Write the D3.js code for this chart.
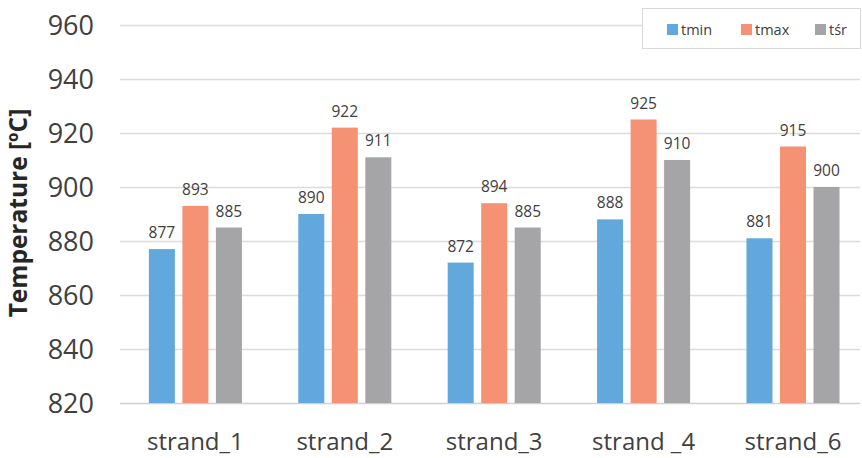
<!DOCTYPE html>
<html>
<head>
<meta charset="utf-8">
<script src="https://cdn.jsdelivr.net/npm/d3@7"></script>
<style>
  html, body { margin: 0; padding: 0; background: #fff; }
  svg { display: block; font-family: "Open Sans", sans-serif; }
</style>
</head>
<body>
<svg id="chart" width="862" height="458"></svg>
<script>
// Strand temperatures (°C)
const categories = ["strand_1", "strand_2", "strand_3", "strand _4", "strand_6"];
const seriesNames = ["tmin", "tmax", "tśr"];
const tminValues = [877, 890, 872, 888, 881];
const tmaxValues = [893, 922, 894, 925, 915];
const tsrValues  = [885, 911, 885, 910, 900];
const yTicks = [820, 840, 860, 880, 900, 920, 940, 960];
const seriesColors = ["#62A8DC", "#F59273", "#A5A5A8"];

const seriesValues = [tminValues, tmaxValues, tsrValues];
const rows = categories.map((c, i) => ({
  category: c,
  values: seriesNames.map((s, j) => ({ series: s, value: seriesValues[j][i], color: seriesColors[j] }))
}));

const svg = d3.select("#chart");
const plot = { left: 120, right: 860, top: 25, bottom: 403 };

const x0 = d3.scaleBand()
  .domain(categories)
  .range([120.7, 867.7])
  .paddingInner(0.327)
  .paddingOuter(0.1635);

const x1 = d3.scaleBand()
  .domain(seriesNames)
  .range([0, x0.bandwidth()])
  .paddingInner(0.224)
  .paddingOuter(0.112);

const y = d3.scaleLinear()
  .domain([820, 960])
  .range([plot.bottom, plot.top]);

// Horizontal gridlines
svg.append("g")
  .selectAll("line")
  .data(yTicks)
  .join("line")
  .attr("x1", plot.left)
  .attr("x2", plot.right)
  .attr("y1", d => Math.round(y(d)) + 0.5)
  .attr("y2", d => Math.round(y(d)) + 0.5)
  .attr("stroke", d => d === 820 ? "#d0d0d0" : "#dcdcdc")
  .attr("stroke-width", 1.3);

// Y axis tick labels
const yAxis = svg.append("g")
  .attr("transform", "translate(94,0)")
  .call(d3.axisLeft(y).tickValues(yTicks).tickSize(0).tickPadding(0).tickFormat(d3.format("d")));
yAxis.select(".domain").remove();
yAxis.selectAll("text")
  .attr("font-family", "'Open Sans', sans-serif")
  .attr("font-size", 27)
  .attr("fill", "#404040")
  .attr("dy", "0.35em");

// Y axis title
svg.append("text")
  .attr("transform", "translate(27,213) rotate(-90)")
  .attr("text-anchor", "middle")
  .attr("font-size", 24.5)
  .attr("font-weight", "bold")
  .attr("fill", "#262626")
  .text("Temperature [ºC]");

// Bars
const groups = svg.append("g")
  .selectAll("g")
  .data(rows)
  .join("g")
  .attr("transform", d => `translate(${x0(d.category)},0)`);

groups.selectAll("rect")
  .data(d => d.values)
  .join("rect")
  .attr("x", d => x1(d.series))
  .attr("width", x1.bandwidth())
  .attr("y", d => y(d.value))
  .attr("height", d => y(820) - y(d.value))
  .attr("fill", d => d.color);

// Value labels
groups.selectAll("text")
  .data(d => d.values)
  .join("text")
  .attr("x", d => x1(d.series) + x1.bandwidth() / 2)
  .attr("y", d => y(d.value) - 11)
  .attr("text-anchor", "middle")
  .attr("font-size", 15.5)
  .attr("fill", "#404040")
  .text(d => d.value);

// Category labels
const xAxis = svg.append("g")
  .attr("transform", `translate(0,${plot.bottom})`)
  .call(d3.axisBottom(x0).tickSize(0).tickPadding(0));
xAxis.select(".domain").remove();
xAxis.selectAll("text")
  .attr("font-family", "'Open Sans', sans-serif")
  .attr("font-size", 24)
  .attr("fill", "#404040")
  .attr("dy", "0")
  .attr("y", 47);

// Legend
const legend = svg.append("g");
legend.append("rect")
  .attr("x", 642.5).attr("y", 8.5)
  .attr("width", 218).attr("height", 40)
  .attr("fill", "#fff")
  .attr("stroke", "#d9d9d9");
const legendX = [667, 741, 815];
const items = legend.selectAll("g.item")
  .data(seriesNames)
  .join("g")
  .attr("class", "item")
  .attr("transform", (d, i) => `translate(${legendX[i]},24)`);
items.append("rect")
  .attr("width", 11).attr("height", 11)
  .attr("fill", (d, i) => seriesColors[i]);
items.append("text")
  .attr("x", 14).attr("y", 10.5)
  .attr("font-size", 14.5)
  .attr("fill", "#404040")
  .text(d => d);
</script>
</body>
</html>
